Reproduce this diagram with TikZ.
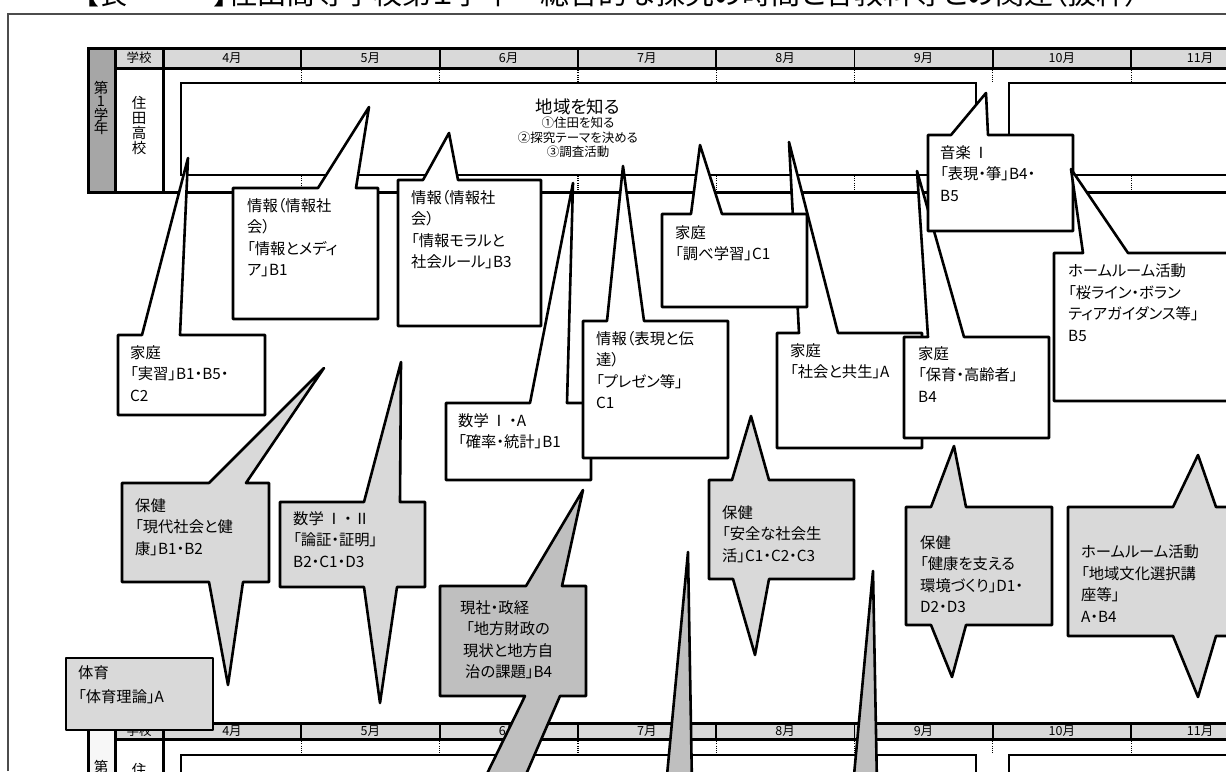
\documentclass[tikz,border=0pt]{standalone}
\usepackage{fontspec}
\setmainfont{Noto Sans CJK JP}[RawFeature=+palt]
\definecolor{hdrgray}{HTML}{D9D9D9}
\definecolor{gradegray}{HTML}{A6A6A6}
\definecolor{shagray}{HTML}{BFBFBF}

\begin{document}
\begin{tikzpicture}[x=1pt,y=-1pt,
    tbl/.style={line width=3pt},
    sep/.style={line width=1.8pt},
    tick/.style={line width=1.2pt,dash pattern=on 1pt off 1.2pt},
    callout/.style={draw,line width=2.6pt,fill=white,line join=round},
    hoken/.style={callout,fill=hdrgray},
    shakai/.style={callout,fill=shagray},
    txt/.style={anchor=north west,align=left,inner sep=0pt,font=\fontsize{15.3}{21.5}\selectfont},
    hdr/.style={inner sep=0pt,font=\fontsize{12.5}{12.5}\selectfont}]
  \useasboundingbox (0,0) rectangle (1226,771);
  \node[anchor=base,inner sep=0pt,font=\fontsize{29}{29}\selectfont] (title) at (612,5) {【表　　　】住田高等学校第１学年　総合的な探究の時間と各教科等との関連（抜粋）};
  \draw[line width=1.5pt,black!70] (8,771) -- (8,14) -- (1226,14);

  \fill[hdrgray] (115,48) rectangle (1240,68);
  \fill[gradegray] (88,48) rectangle (115,192);
  \draw[tbl] (1240,48) -- (88,48) -- (88,192) -- (1240,192);
  \draw[tbl] (115,48) -- (115,192) (163,48) -- (163,192) (115,68) -- (1240,68);
  \foreach \k in {1,...,7} {
    \draw[sep] ({163+138.3*\k},48) -- ({163+138.3*\k},68);
    \draw[tick] ({163+138.3*\k},68) -- +(0,15) ({163+138.3*\k},176) -- +(0,15);
  }
  \node[hdr] (school1) at (139,58) {学校};
  \foreach \m [count=\k from 0] in {4,...,11}
    \node[hdr] (month1-\m) at ({232+138.3*\k},58) {\m 月};
  \node[font=\fontsize{14.5}{13.5}\selectfont,align=center,inner sep=0pt] (grade1) at (101,108) {第\\1\\学\\年};
  \node[font=\fontsize{14.5}{15}\selectfont,align=center,inner sep=0pt] (sumita1) at (139,125) {住\\田\\高\\校};
  \draw[line width=2pt] (181,83) rectangle (976,175);
  \draw[line width=2pt] (1009,83) rectangle (1240,175);
  \node[align=center,inner sep=0pt,font=\fontsize{12.5}{14.5}\selectfont] (chiiki) at (578,128)
    {{\fontsize{17.5}{19}\selectfont 地域を知る}\\①住田を知る\\②探究テーマを決める\\③調査活動};

  \draw[callout] (118,335) -- (142,335) -- (188,158) -- (180,335) -- (265,335) -- (265,415) -- (118,415) -- cycle;
  \node[txt] (jisshu) at (130,345) {家庭\\「実習」B1・B5・\\C2};
  \draw[callout] (233,188) -- (318,188) -- (369,107) -- (356,188) -- (378,188) -- (378,319) -- (233,319) -- cycle;
  \node[txt] (media) at (247,198) {情報（情報社\\会）\\「情報とメディ\\ア」B1};
  \draw[callout] (398,180) -- (423,180) -- (449,133) -- (458,180) -- (541,180) -- (541,326) -- (398,326) -- cycle;
  \node[txt] (moral) at (411,190) {情報（情報社\\会）\\「情報モラルと\\社会ルール」B3};
  \draw[callout] (446,403) -- (530,403) -- (573,183) -- (567,403) -- (591,403) -- (591,480) -- (446,480) -- cycle;
  \node[txt] (kakuritsu) at (458,413) {数学\,Ⅰ\,・A\\「確率・統計」B1};
  \draw[callout] (583,321) -- (607,321) -- (623,166) -- (644,321) -- (728,321) -- (728,458) -- (583,458) -- cycle;
  \node[txt] (presen) at (596,331) {情報（表現と伝\\達）\\「プレゼン等」\\C1};
  \draw[callout] (777,333) -- (799,333) -- (789,142) -- (838,333) -- (922,333) -- (922,448) -- (777,448) -- cycle;
  \node[txt] (kyosei) at (790,343) {家庭\\「社会と共生」A};
  \draw[callout] (662,214) -- (691,214) -- (700,145) -- (722,214) -- (807,214) -- (807,307) -- (662,307) -- cycle;
  \node[txt] (shirabe) at (675,225) {家庭\\「調べ学習」C1};
  \draw[callout] (904,337) -- (928,337) -- (917,171) -- (964,337) -- (1049,337) -- (1049,438) -- (904,438) -- cycle;
  \node[txt] (hoiku) at (918,346) {家庭\\「保育・高齢者」\\B4};
  \draw[callout] (928,135) -- (951,135) -- (986,93) -- (988,135) -- (1073,135) -- (1073,231) -- (928,231) -- cycle;
  \node[txt] (ongaku) at (940,145) {音楽\,Ⅰ\\「表現・箏」B4・\\B5};
  \draw[callout] (1054,253) -- (1083,253) -- (1071,169) -- (1128,253) -- (1240,253) -- (1240,401) -- (1054,401) -- cycle;
  \node[txt] (sakura) at (1068,264) {ホームルーム活動\\「桜ライン・ボラン\\ティアガイダンス等」\\B5};

  \fill[hdrgray] (115,723) rectangle (1240,739);
  \fill[gray!6] (88,723) rectangle (115,800);
  \draw[tbl] (1240,723) -- (88,723) -- (88,800);
  \draw[tbl] (115,723) -- (115,800) (163,723) -- (163,800) (115,739) -- (1240,739);
  \foreach \k in {1,...,7} {
    \draw[sep] ({163+138.3*\k},723) -- ({163+138.3*\k},739);
    \draw[tick] ({163+138.3*\k},739) -- +(0,15);
  }
  \node[hdr] (school2) at (139,731) {学校};
  \foreach \m [count=\k from 0] in {4,...,11}
    \node[hdr] (month2-\m) at ({232+138.3*\k},731) {\m 月};
  \node[font=\fontsize{14.5}{13.5}\selectfont,inner sep=0pt] (grade2) at (101,767) {第};
  \node[font=\fontsize{14.5}{15}\selectfont,inner sep=0pt] (sumita2) at (139,770) {住};
  \draw[line width=2pt] (181,755) rectangle (976,800);
  \draw[line width=2pt] (1009,755) rectangle (1240,800);

  \draw[hoken] (122,483) -- (209,483) -- (324,368) -- (246,483) -- (269,483) -- (269,582) -- (243,582) -- (228,685) -- (209,582) -- (122,582) -- cycle;
  \node[txt] (gendai) at (135,498) {保健\\「現代社会と健\\康」B1・B2};
  \draw[hoken] (280,502) -- (364,502) -- (401,362) -- (400,502) -- (425,502) -- (425,587) -- (397,587) -- (380,703) -- (364,587) -- (280,587) -- cycle;
  \node[txt] (ronsho) at (293,511) {数学\,Ⅰ\,・\,Ⅱ\\「論証・証明」\\B2・C1・D3};
  \draw[shakai] (440,586) -- (526,586) -- (583,490) -- (562,586) -- (586,586) -- (586,696) -- (560,696) -- (521,786) -- (481,786) -- (525,696) -- (440,696) -- cycle;
  \node[txt] (zaisei) at (460,600) {現社・政経\\\hspace*{6pt}「地方財政の\\\hspace*{3pt}現状と地方自\\\hspace*{5pt}治の課題」B4};
  \draw[hoken] (709,480) -- (732,480) -- (751,416) -- (769,480) -- (854,480) -- (854,579) -- (769,579) -- (755,655) -- (733,579) -- (709,579) -- cycle;
  \node[txt] (anzen) at (722,505) {保健\\「安全な社会生\\活」C1・C2・C3};
  \draw[hoken] (906,507) -- (931,507) -- (954,446) -- (966,507) -- (1052,507) -- (1052,625) -- (966,625) -- (952,677) -- (931,625) -- (906,625) -- cycle;
  \node[txt] (kankyo) at (920,535) {保健\\「健康を支える\\環境づくり」D1・\\D2・D3};
  \draw[hoken] (1068,507) -- (1173,507) -- (1198,455) -- (1216,507) -- (1240,507) -- (1240,636) -- (1216,636) -- (1198,697) -- (1173,636) -- (1068,636) -- cycle;
  \node[txt] (bunka) at (1081,545) {ホームルーム活動\\「地域文化選択講\\座等」\\A・B4};
  \draw[hoken] (66,658) rectangle (213,730);
  \node[txt,font=\fontsize{15.3}{24}\selectfont] (taiiku) at (78,665) {体育\\「体育理論」A};
  \draw[shakai] (688,552) -- (692,786) -- (666,786) -- cycle;
  \draw[shakai] (873,571) -- (877,786) -- (853,786) -- cycle;
\end{tikzpicture}
\end{document}
